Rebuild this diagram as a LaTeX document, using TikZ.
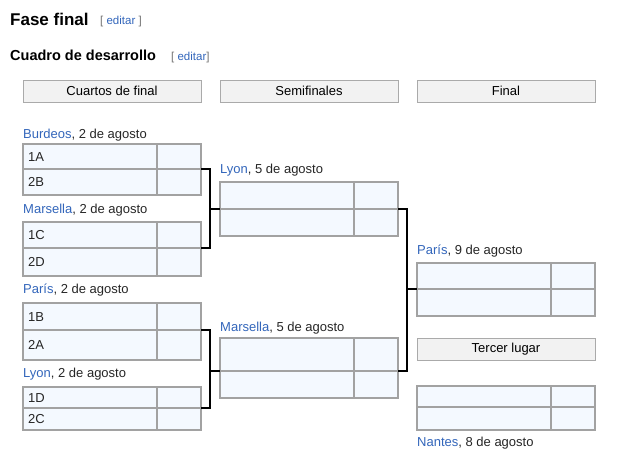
\documentclass[tikz,border=0pt]{standalone}
\usepackage{fontspec}
\setmainfont{Liberation Sans}
\definecolor{linkblue}{HTML}{3366BB}
\definecolor{cellfill}{HTML}{F4F9FF}
\definecolor{cellline}{HTML}{A2A2A2}
\definecolor{headfill}{HTML}{F2F2F2}
\definecolor{headline}{HTML}{AAAAAA}
\tikzset{
  cell/.style={draw=cellline, fill=cellfill, line width=1.5pt, inner sep=0pt, outer sep=0pt, rectangle},
  headbox/.style={draw=headline, fill=headfill, line width=0.9pt, inner sep=0pt, outer sep=0pt, minimum width=178pt, minimum height=22pt, anchor=north west, font=\fontsize{13}{15}\selectfont},
  celltext/.style={anchor=base west, inner sep=0pt, text=black!85, font=\fontsize{13}{15}\selectfont},
  venue/.style={anchor=base west, inner sep=0pt, text=black!85, font=\fontsize{13}{15}\selectfont},
  conn/.style={draw=black, line width=2pt, line join=miter},
}
% #1 prefix, #2 x, #3 top, #4 middle, #5 bottom, #6 text1, #7 text2
\newcommand{\matchcells}[7]{%
  \node[cell, anchor=north west, minimum width=134pt, minimum height={(#4-#3)*1pt}] (#1a) at (#2,#3) {};
  \node[cell, anchor=north west, minimum width=44pt, minimum height={(#4-#3)*1pt}] (#1as) at ({#2+134},#3) {};
  \node[cell, anchor=north west, minimum width=134pt, minimum height={(#5-#4)*1pt}] (#1b) at (#2,#4) {};
  \node[cell, anchor=north west, minimum width=44pt, minimum height={(#5-#4)*1pt}] (#1bs) at ({#2+134},#4) {};
  \node[celltext] (#1at) at ({#2+5},{(#3+#4)/2+4.5}) {#6};
  \node[celltext] (#1bt) at ({#2+5},{(#4+#5)/2+4.5}) {#7};
}
\begin{document}
\begin{tikzpicture}[x=1pt,y=-1pt]
\useasboundingbox (0,0) rectangle (622,469);
\fill[white] (0,0) rectangle (622,469);

% titles
\node[anchor=base west, inner sep=0pt, font=\fontsize{17}{20}\selectfont\bfseries] (t1) at (10,25) {Fase final};
\node[anchor=base west, inner sep=0pt, font=\fontsize{11.5}{14}\selectfont] (e1) at (100,24) {\textcolor{black!55}{[} \textcolor{linkblue}{editar} \textcolor{black!55}{]}};
\node[anchor=base west, inner sep=0pt, font=\fontsize{14.5}{17}\selectfont\bfseries] (t2) at (10,60) {Cuadro de desarrollo};
\node[anchor=base west, inner sep=0pt, font=\fontsize{11.5}{14}\selectfont] (e2) at (171,60) {\textcolor{black!55}{[} \textcolor{linkblue}{editar}\textcolor{black!55}{]}};

% headers
\node[headbox] (h1) at (23,80) {Cuartos de final};
\node[headbox] (h2) at (220,80) {Semifinales};
\node[headbox] (h3) at (417,80) {Final};
\node[headbox] (h4) at (417,338) {Tercer lugar};

% quarter-finals
\node[venue] (v1) at (23,138) {\textcolor{linkblue}{Burdeos}, 2 de agosto};
\matchcells{qa}{23}{144}{169}{195}{1A}{2B}
\node[venue] (v2) at (23,213) {\textcolor{linkblue}{Marsella}, 2 de agosto};
\matchcells{qb}{23}{222}{248}{276}{1C}{2D}
\node[venue] (v3) at (23,293) {\textcolor{linkblue}{París}, 2 de agosto};
\matchcells{qc}{23}{303}{330}{360}{1B}{2A}
\node[venue] (v4) at (23,377) {\textcolor{linkblue}{Lyon}, 2 de agosto};
\matchcells{qd}{23}{387}{408}{430}{1D}{2C}

% semifinals
\node[venue] (v5) at (220,173) {\textcolor{linkblue}{Lyon}, 5 de agosto};
\matchcells{sa}{220}{182}{209}{236}{}{}
\node[venue] (v6) at (220,331) {\textcolor{linkblue}{Marsella}, 5 de agosto};
\matchcells{sb}{220}{338}{371}{398}{}{}

% final
\node[venue] (v7) at (417,254) {\textcolor{linkblue}{París}, 9 de agosto};
\matchcells{fa}{417}{263}{289}{316}{}{}

% third place
\matchcells{ta}{417}{386}{407}{430}{}{}
\node[venue] (v8) at (417,446) {\textcolor{linkblue}{Nantes}, 8 de agosto};

% connectors
\coordinate (j1) at (210,209);
\coordinate (j2) at (210,371);
\coordinate (j3) at (407,289);
\draw[conn] (qabs.north east) -| (j1) |- (qbbs.north east);
\draw[conn] (j1) -- (sab.north west);
\draw[conn] (qcbs.north east) -| (j2) |- (qdbs.north east);
\draw[conn] (j2) -- (sbb.north west);
\draw[conn] (sabs.north east) -| (j3) |- (sbbs.north east);
\draw[conn] (j3) -- (fab.north west);
\end{tikzpicture}
\end{document}
